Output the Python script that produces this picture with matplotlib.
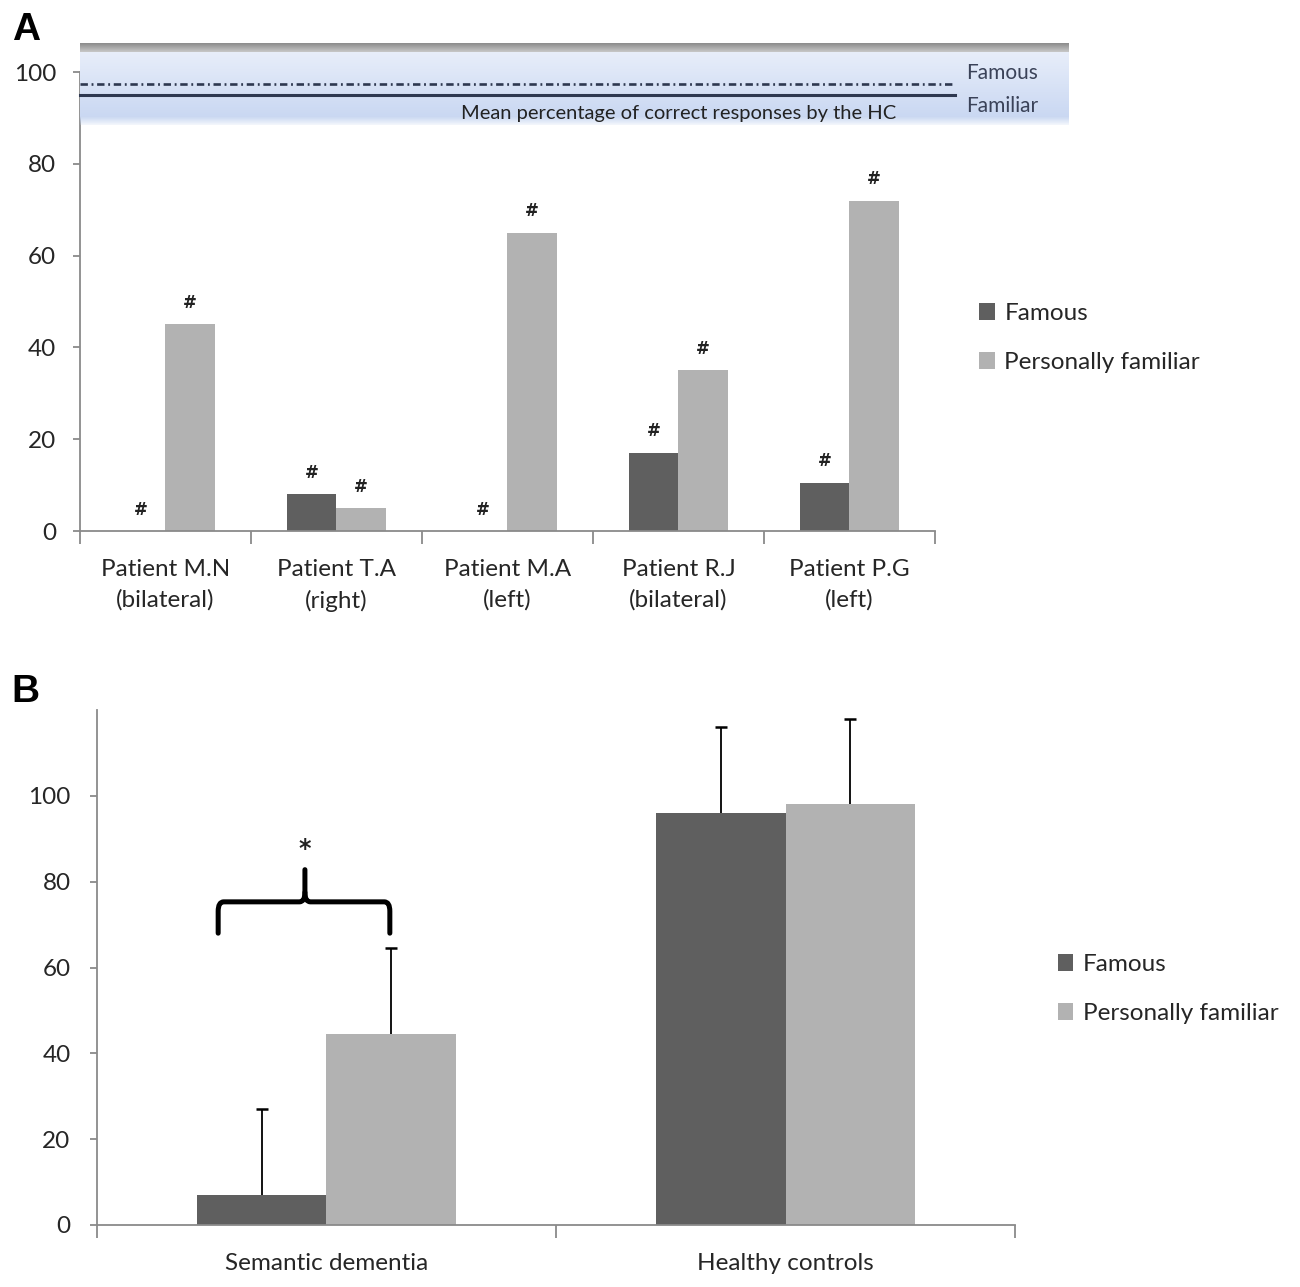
import numpy as np
import matplotlib.pyplot as plt
from matplotlib.path import Path
from matplotlib.patches import PathPatch

plt.rcParams['font.family'] = ['Lato', 'DejaVu Sans']

# Panel A data
patients = ["Patient M.N\n(bilateral)", "Patient T.A\n(right)", "Patient M.A\n(left)",
            "Patient R.J\n(bilateral)", "Patient P.G\n(left)"]
famous_a = [0, 8, 0, 17, 10.5]
familiar_a = [45, 5, 65, 35, 72]
hc_famous = 97.5
hc_familiar = 95

# Panel B data
groups_b = ["Semantic dementia", "Healthy controls"]
famous_b = [7, 96]
familiar_b = [44.5, 98]
famous_b_err = [20, 20]
familiar_b_err = [20, 20]

DARK = "#5f5f5f"
LIGHT = "#b2b2b2"
AXC = "#8a8a8a"
TXT = "#262626"
FS = 17.5
NAVY = "#2e3850"


def style_axes(ax, n, ylim, yticks, xpad, ypad):
    for s in ("top", "right"):
        ax.spines[s].set_visible(False)
    for s in ("left", "bottom"):
        ax.spines[s].set_color(AXC)
        ax.spines[s].set_linewidth(1.3)
    ax.set_xlim(-0.5, n - 0.5)
    ax.set_ylim(*ylim)
    ax.set_yticks(yticks)
    ax.set_xticks(np.arange(n))
    ax.set_xticks(np.arange(n + 1) - 0.5, minor=True)
    ax.tick_params(axis="x", which="major", length=0, pad=xpad, labelsize=FS, labelcolor=TXT)
    ax.tick_params(axis="x", which="minor", length=9, width=1.3, color=AXC, direction="out")
    ax.tick_params(axis="y", length=5, width=1.3, color=AXC, pad=ypad, labelsize=FS, labelcolor=TXT)


fig = plt.figure(figsize=(13, 12.87), dpi=100)

# ---------------- Panel A ----------------
axA = fig.add_axes([0.0615, 0.5874, 0.6577, 0.3566])
x = np.arange(len(patients))
w = 0.29
bf = axA.bar(x - w / 2, famous_a, w, color=DARK, label="Famous")
bp = axA.bar(x + w / 2, familiar_a, w, color=LIGHT, label="Personally familiar")
style_axes(axA, len(patients), (0, 100), range(0, 101, 20), 20, 12)
axA.set_xticklabels(patients, linespacing=1.55)

for xs, vals in ((x - w / 2, famous_a), (x + w / 2, familiar_a)):
    for xi, v in zip(xs, vals):
        axA.annotate("#", (xi, v), xytext=(0, 9), textcoords="offset points",
                     ha="center", va="bottom", fontsize=12, fontweight="bold",
                     color="#222222", family="DejaVu Sans")

# healthy-control reference band
grad = np.linspace(0, 1, 100)[:, None]
c_top = np.array([232, 238, 250]) / 255
c_bot = np.array([198, 213, 241]) / 255
band = c_top + (c_bot - c_top) * grad
alpha = np.ones((100, 1))
alpha[-12:, 0] = np.linspace(1, 0.2, 12)
band_img = np.dstack([np.repeat(band[:, None, :], 2, axis=1)[..., i] for i in range(3)]
                     + [np.repeat(alpha, 2, axis=1)])
axA.imshow(band_img, extent=(0, 1.156, 0.8845, 1.0436), transform=axA.transAxes,
           aspect="auto", clip_on=False, zorder=4, interpolation="bilinear")
gray = np.linspace(0.55, 0.78, 20)[:, None]
gray_img = np.dstack([np.repeat(gray, 2, axis=1)] * 3)
axA.imshow(gray_img, extent=(0, 1.156, 1.0436, 1.062), transform=axA.transAxes,
           aspect="auto", clip_on=False, zorder=4, interpolation="bilinear")
tr = axA.get_yaxis_transform()
axA.plot([0, 1.023], [hc_famous, hc_famous], transform=tr, color=NAVY, lw=1.9,
         ls=(0, (2.8, 1.4, 0.7, 1.4)), clip_on=False, zorder=5)
axA.plot([0, 1.023], [hc_familiar, hc_familiar], transform=tr, color=NAVY, lw=2.2,
         clip_on=False, zorder=5)
axA.text(1.036, hc_famous + 0.2, "Famous", transform=tr, fontsize=15, color="#3a4258",
         va="bottom", ha="left", zorder=6)
axA.text(1.036, hc_familiar - 0.3, "Familiar", transform=tr, fontsize=15, color="#3a4258",
         va="top", ha="left", zorder=6)
axA.text(0.7, 90.9, "Mean percentage of correct responses by the HC", transform=tr,
         fontsize=14.5, color="#222222", ha="center", va="center", zorder=6)

fig.legend(handles=[bf, bp], loc="center left", bbox_to_anchor=(0.753, 0.7374),
           frameon=False, fontsize=FS, handlelength=0.65, handleheight=0.65,
           handletextpad=0.4, labelspacing=1.15, borderpad=0, borderaxespad=0,
           labelcolor=TXT)

# ---------------- Panel B ----------------
axB = fig.add_axes([0.0746, 0.0482, 0.7062, 0.4001])
xb = np.arange(len(groups_b))
wb = 0.283
bf2 = axB.bar(xb - wb / 2, famous_b, wb, color=DARK, label="Famous")
bp2 = axB.bar(xb + wb / 2, familiar_b, wb, color=LIGHT, label="Personally familiar")
for xs, vals, errs in ((xb - wb / 2, famous_b, famous_b_err),
                       (xb + wb / 2, familiar_b, familiar_b_err)):
    tops = np.array(vals) + np.array(errs)
    axB.vlines(xs, vals, tops, color="black", lw=1.3, zorder=3)
    axB.plot(xs, tops, ls="none", marker="_", ms=9, mew=1.8, color="black", zorder=3)
style_axes(axB, len(groups_b), (0, 120), range(0, 101, 20), 20, 14)
axB.set_xticklabels(groups_b)

# significance brace over the semantic dementia group
x0, x1, xm = -0.236, 0.138, -0.047
y0, y1, y2 = 68, 75.3, 82.8
rx, ry = 0.012, 2.2
verts = [(x0, y0), (x0, y1 - ry), (x0, y1), (x0 + rx, y1),
         (xm - rx, y1), (xm, y1), (xm, y1 + ry), (xm, y2)]
codes = [Path.MOVETO, Path.LINETO, Path.CURVE3, Path.CURVE3,
         Path.LINETO, Path.CURVE3, Path.CURVE3, Path.LINETO]
verts2 = [(x1, y0), (x1, y1 - ry), (x1, y1), (x1 - rx, y1),
          (xm + rx, y1), (xm, y1), (xm, y1 + ry)]
codes2 = [Path.MOVETO, Path.LINETO, Path.CURVE3, Path.CURVE3,
          Path.LINETO, Path.CURVE3, Path.CURVE3]
for vv, cc in ((verts, codes), (verts2, codes2)):
    axB.add_patch(PathPatch(Path(vv, cc), fill=False, lw=3.6, color="black",
                            capstyle="round", joinstyle="round"))
axB.text(xm, 87.5, "*", ha="center", va="center", fontsize=17, fontweight="bold",
         color="#222222", family="DejaVu Sans")

fig.legend(handles=[bf2, bp2], loc="center left", bbox_to_anchor=(0.8135, 0.2315),
           frameon=False, fontsize=FS, handlelength=0.65, handleheight=0.65,
           handletextpad=0.4, labelspacing=1.15, borderpad=0, borderaxespad=0,
           labelcolor=TXT)

fig.text(0.009, 1 - 12 / 1287, "A", fontsize=28, fontweight="bold", va="top",
         family="Liberation Sans")
fig.text(0.009, 1 - 674 / 1287, "B", fontsize=28, fontweight="bold", va="top",
         family="Liberation Sans")

fig.savefig("out.png", dpi=100)
